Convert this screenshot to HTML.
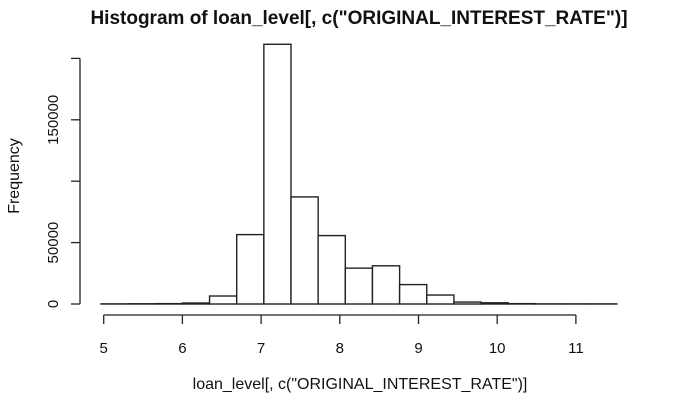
<!DOCTYPE html>
<html><head><meta charset="utf-8"><style>
body{margin:0;background:#fff}
svg text{font-family:"Liberation Sans",sans-serif;fill:#111}
</style></head><body>
<svg id="c" width="675" height="405" xmlns="http://www.w3.org/2000/svg">
<text x="359" y="24" text-anchor="middle" font-size="19" font-weight="bold">Histogram of loan_level[, c("ORIGINAL_INTEREST_RATE")]</text>
<text x="360" y="389" text-anchor="middle" font-size="16">loan_level[, c("ORIGINAL_INTEREST_RATE")]</text>
<text x="19" y="176" text-anchor="middle" font-size="16" transform="rotate(-90 19 176)">Frequency</text>
<g id="bars"></g><g id="xa"></g><g id="ya"></g>
</svg>
<script>
const breakStart = 4.965;
const binWidth = 0.345;
const counts = [100,200,300,800,6500,56500,211500,87200,55700,29200,31100,15800,7300,1600,1000,300,100,100,100];
const xTicks = [5,6,7,8,9,10,11];
const yTicks = [0,50000,100000,150000,200000];
const yLabels = ["0","50000","","150000",""];
const X = v => 103.7 + (v-5)*78.7;
const Y = v => 304 - v*0.001228;
const ns="http://www.w3.org/2000/svg";
function mk(t,a,p){const e=document.createElementNS(ns,t);for(const k in a)e.setAttribute(k,a[k]);p.appendChild(e);return e;}
const bars=document.getElementById('bars');
counts.forEach((c,i)=>{
  const x0=X(breakStart+i*binWidth), x1=X(breakStart+(i+1)*binWidth);
  const r=mk('rect',{x:x0,y:Y(c),width:x1-x0,height:Y(0)-Y(c),fill:'#fff',stroke:'#222','stroke-width':1.4},bars);
  
  
});
const xa=document.getElementById('xa');
const xl=mk('line',{x1:X(5),x2:X(11),y1:315,y2:315,stroke:'#222','stroke-width':1.3},xa);


xTicks.forEach(t=>{
  mk('line',{x1:X(t),x2:X(t),y1:315,y2:324,stroke:'#222','stroke-width':1.3},xa);
  const tx=mk('text',{x:X(t),y:353,'text-anchor':'middle','font-size':15},xa);
  tx.textContent=t;
  
  
});
const ya=document.getElementById('ya');
const yl=mk('line',{x1:80,x2:80,y1:Y(200000),y2:Y(0),stroke:'#222','stroke-width':1.3},ya);


yTicks.forEach((t,i)=>{
  mk('line',{x1:71,x2:80,y1:Y(t),y2:Y(t),stroke:'#222','stroke-width':1.3},ya);
  if(yLabels[i]){
    const tx=mk('text',{x:58,y:Y(t),'text-anchor':'middle','font-size':15,transform:`rotate(-90 58 ${Y(t)})`},ya);
    tx.textContent=yLabels[i];
    
    
  }
});
</script>
</body></html>
